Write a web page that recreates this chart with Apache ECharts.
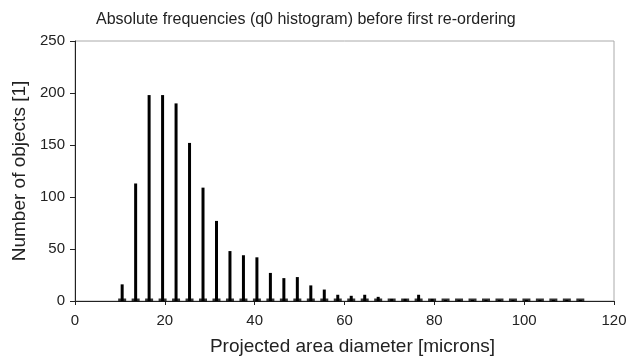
<!DOCTYPE html>
<html>
<head>
<meta charset="utf-8">
<script src="https://cdn.jsdelivr.net/npm/echarts@6/dist/echarts.min.js"></script>
<style>
  html, body { margin: 0; padding: 0; background: #fff; }
  #chart { width: 630px; height: 357px; }
</style>
</head>
<body>
<div id="chart"></div>
<script>
// bin centres [microns] and counts
var binCenters = [10.5, 13.5, 16.5, 19.5, 22.5, 25.5, 28.5, 31.5, 34.5, 37.5,
  40.5, 43.5, 46.5, 49.5, 52.5, 55.5, 58.5, 61.5, 64.5, 67.5,
  70.5, 73.5, 76.5, 79.5, 82.5, 85.5, 88.5, 91.5, 94.5, 97.5,
  100.5, 103.5, 106.5, 109.5, 112.5];
var counts = [16, 113, 198, 198, 190, 152, 109, 77, 48, 44,
  42, 27, 22, 23, 15, 11, 6, 5, 6, 4,
  2, 2, 6, 2, 1, 1, 1, 1, 1, 1,
  1, 1, 1, 1, 1];
var xTicks = [0, 20, 40, 60, 80, 100, 120];
var yTicks = [0, 50, 100, 150, 200, 250];

var font = "Liberation Sans, Arial, sans-serif";
var chart = echarts.init(document.getElementById("chart"));

var barData = binCenters.map(function (x, i) { return [x, counts[i]]; });
var footData = binCenters.map(function (x) { return [x, 0]; });

chart.setOption({
  animation: false,
  title: {
    text: "Absolute frequencies (q0 histogram) before first re-ordering",
    left: 91,
    top: 7,
    textStyle: { fontFamily: font, fontSize: 16, fontWeight: "normal", color: "#222" }
  },
  grid: {
    left: 75, right: 16, top: 41, bottom: 56,
    outerBoundsMode: "none",
    show: true, borderColor: "#aaa", borderWidth: 1
  },
  xAxis: {
    type: "value",
    min: xTicks[0], max: xTicks[xTicks.length - 1], interval: 20,
    name: "Projected area diameter [microns]",
    nameLocation: "middle", nameGap: 36,
    nameTextStyle: { fontFamily: font, fontSize: 19, color: "#222", padding: [0, 0, 0, 16] },
    axisLine: { lineStyle: { color: "#222", width: 1 } },
    axisTick: { show: true, length: 4, lineStyle: { color: "#222" } },
    axisLabel: { fontFamily: font, fontSize: 15, color: "#222", margin: 12 },
    splitLine: { show: false }
  },
  yAxis: {
    type: "value",
    min: yTicks[0], max: yTicks[yTicks.length - 1], interval: 50,
    name: "Number of objects [1]",
    nameLocation: "middle", nameGap: 40,
    nameTextStyle: { fontFamily: font, fontSize: 19, color: "#222" },
    axisLine: { show: true, lineStyle: { color: "#222", width: 1 } },
    axisTick: { show: true, length: 5, lineStyle: { color: "#222" } },
    axisLabel: { fontFamily: font, fontSize: 15, color: "#222", margin: 10 },
    splitLine: { show: false }
  },
  series: [
    {
      type: "bar",
      data: barData,
      barWidth: 3,
      itemStyle: { color: "#000" }
    },
    {
      type: "scatter",
      data: footData,
      symbol: "rect",
      symbolSize: [8, 3],
      symbolOffset: [0, -1],
      itemStyle: { color: "#000" },
      z: 3
    }
  ]
});
</script>
</body>
</html>
